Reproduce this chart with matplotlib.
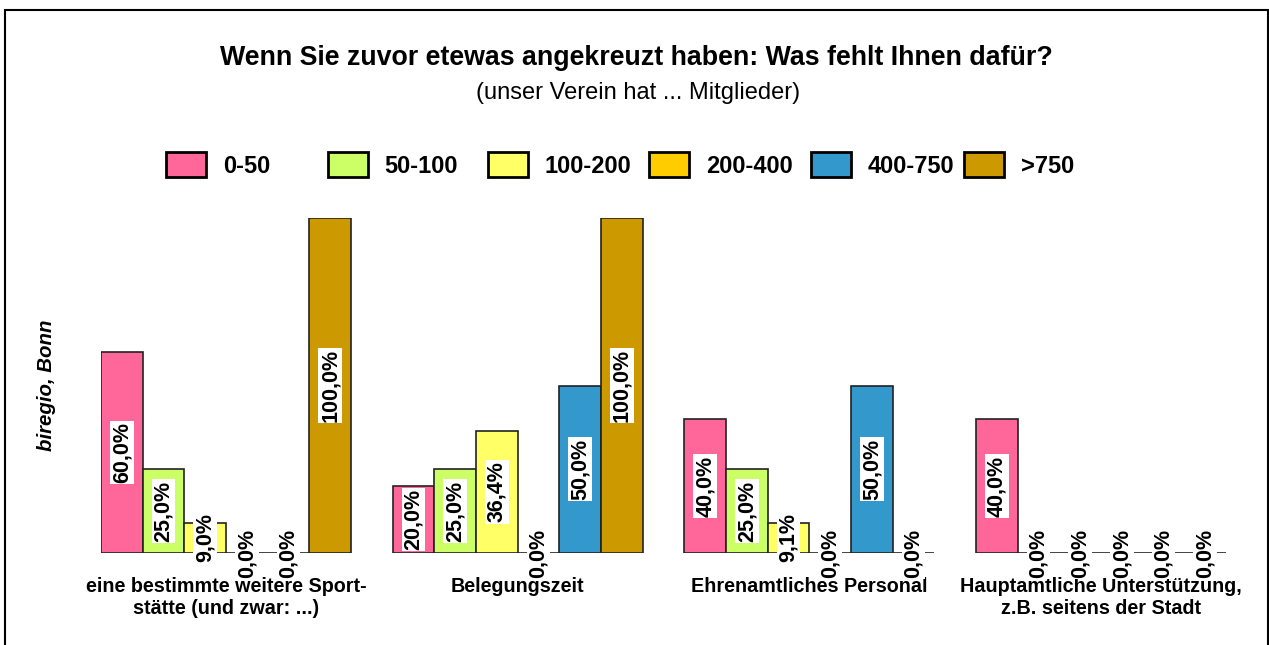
import matplotlib
matplotlib.use("Agg")
import matplotlib.pyplot as plt
from matplotlib.patches import Rectangle

categories = ["eine bestimmte weitere Sport-\nstätte (und zwar: ...)",
              "Belegungszeit",
              "Ehrenamtliches Personal",
              "Hauptamtliche Unterstützung,\nz.B. seitens der Stadt"]
series_names = ["0-50", "50-100", "100-200", "200-400", "400-750", ">750"]
values = {
    "0-50":    [60.0, 20.0, 40.0, 40.0],
    "50-100":  [25.0, 25.0, 25.0, 0.0],
    "100-200": [9.0, 36.4, 9.1, 0.0],
    "200-400": [0.0, 0.0, 0.0, 0.0],
    "400-750": [0.0, 50.0, 50.0, 0.0],
    ">750":    [100.0, 100.0, 0.0, 0.0],
}
colors = ["#FF6699", "#CCFF66", "#FFFF66", "#FFCC00", "#3399CC", "#CC9900"]

plt.rcParams['font.family'] = ['Liberation Sans', 'DejaVu Sans']

W, H = 1269, 645
fig = plt.figure(figsize=(W / 100, H / 100), dpi=100)
ax = fig.add_axes([101 / W, (H - 553) / H, 1125 / W, 335 / H])

n = len(series_names)
slot = n + 1
handles = []
for i, name in enumerate(series_names):
    xs = [g * slot + i for g in range(len(categories))]
    b = ax.bar(xs, values[name], width=1.0, align='edge', color=colors[i],
               edgecolor='#222222', linewidth=1.2, label=name, zorder=2)
    handles.append(b)
    for x, v in zip(xs, values[name]):
        ax.text(x + 0.5, v / 2, f"{v:.1f}%".replace('.', ','), rotation=90,
                ha='center', va='center', fontsize=15.5, fontweight='bold',
                bbox=dict(boxstyle='square,pad=0.06', fc='white', ec='none'),
                zorder=4, clip_on=False)

ax.set_xlim(0, slot * (len(categories) - 1) + n)
ax.set_ylim(0, 100)
for s in ax.spines.values():
    s.set_visible(False)
ax.set_yticks([])
ax.set_xticks([g * slot + n / 2 for g in range(len(categories))])
ax.set_xticklabels(categories, fontsize=14.2, fontweight='bold', linespacing=1.2)
ax.tick_params(axis='x', length=0, pad=17)

fig.text(0.5 * (220 + 1052) / W, 1 - 58 / H,
         "Wenn Sie zuvor etewas angekreuzt haben: Was fehlt Ihnen dafür?",
         ha='center', va='center', fontsize=19.3, fontweight='bold')
fig.text(638 / W, 1 - 93 / H, "(unser Verein hat ... Mitglieder)",
         ha='center', va='center', fontsize=17)
fig.text(47 / W, 1 - 385 / H, "biregio, Bonn", rotation=90, ha='center',
         va='center', fontsize=14.7, fontweight='bold', fontstyle='italic')

leg_x = [166, 328, 488, 649, 811, 964]
for xpx, h, name in zip(leg_x, handles, series_names):
    leg = fig.legend(handles=[h], labels=[name], loc='center left',
                     bbox_to_anchor=(xpx / W, 1 - 165 / H), frameon=False,
                     fontsize=17, handlelength=1.7, handleheight=1.27,
                     handletextpad=0.7, borderpad=0, borderaxespad=0)
    for t in leg.get_texts():
        t.set_fontweight('bold')
    for p in leg.get_patches():
        p.set_edgecolor('black')
        p.set_linewidth(2.0)

fig.add_artist(Rectangle((5 / W, -0.05), 1263 / W, 1.05 - 10 / H,
                         transform=fig.transFigure, fill=False,
                         edgecolor='black', linewidth=1.5))

fig.savefig("out.png", dpi=100)
